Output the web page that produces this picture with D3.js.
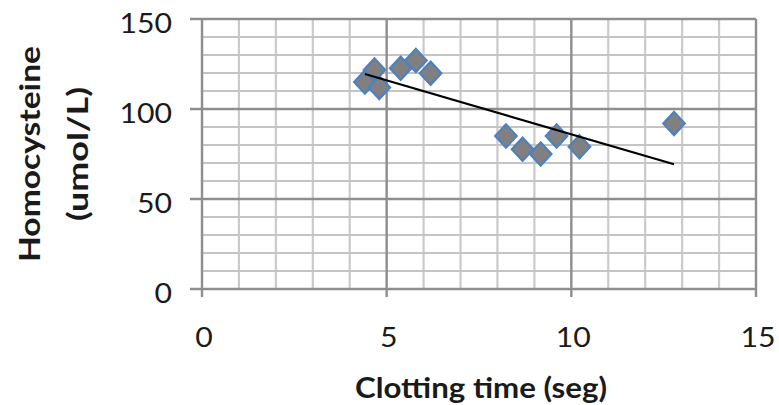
<!DOCTYPE html>
<html>
<head>
<meta charset="utf-8">
<script src="https://cdn.jsdelivr.net/npm/d3@7"></script>
<style>
  html, body { margin: 0; padding: 0; background: #fff; }
  svg { display: block; }
  text { font-family: Lato, "Open Sans", sans-serif; fill: #1a1a1a; }
</style>
</head>
<body>
<svg id="chart" width="779" height="405"></svg>
<script>
// Data
const clottingTime = [4.41, 4.67, 4.80, 5.38, 5.79, 6.19, 8.23, 8.68, 9.17, 9.60, 10.22, 12.78];
const homocysteine = [115, 121.7, 112, 122.6, 127, 119.8, 85, 77.6, 75, 85, 79, 92];
const xTicks = [0, 5, 10, 15];
const yTicks = [0, 50, 100, 150];
const xTitle = "Clotting time (seg)";
const yTitleLines = ["Homocysteine", "(umol/L)"];

const svg = d3.select("#chart");
const x = d3.scaleLinear().domain([0, 15]).range([202, 756]);
const y = d3.scaleLinear().domain([0, 150]).range([289, 19]);

// minor gridlines
const minorX = d3.range(0, 16, 1).filter(v => v % 5 !== 0);
const minorY = d3.range(0, 151, 10).filter(v => v % 50 !== 0);
const grid = svg.append("g");
grid.selectAll("line.mx").data(minorX).join("line")
  .attr("x1", d => x(d)).attr("x2", d => x(d))
  .attr("y1", y(150)).attr("y2", y(0))
  .attr("stroke", "#cacaca").attr("stroke-width", 2.2);
grid.selectAll("line.my").data(minorY).join("line")
  .attr("x1", x(0)).attr("x2", x(15))
  .attr("y1", d => y(d)).attr("y2", d => y(d))
  .attr("stroke", "#c4c4c4").attr("stroke-width", 2.2);

// major gridlines + ticks
grid.selectAll("line.Mx").data(xTicks).join("line")
  .attr("x1", d => x(d)).attr("x2", d => x(d))
  .attr("y1", y(150)).attr("y2", y(0) + 8)
  .attr("stroke", "#8e8e8e").attr("stroke-width", 2.4);
grid.selectAll("line.My").data(yTicks).join("line")
  .attr("x1", x(0) - 12).attr("x2", x(15))
  .attr("y1", d => y(d)).attr("y2", d => y(d))
  .attr("stroke", "#8e8e8e").attr("stroke-width", 2.4);

// tick labels (slightly widened like the reference)
svg.append("g").selectAll("text").data(yTicks).join("text")
  .attr("transform", d => `translate(172,${y(d) + 14}) scale(1.12,1)`)
  .attr("text-anchor", "end").attr("font-size", 27)
  .text(d => d);
svg.append("g").selectAll("text").data(xTicks).join("text")
  .attr("transform", d => `translate(${x(d) + 2},347) scale(1.12,1)`)
  .attr("text-anchor", "middle").attr("font-size", 27)
  .text(d => d);

// points
const sym = d3.symbol().type(d3.symbolSquare).size(230);
svg.append("g").selectAll("path").data(clottingTime).join("path")
  .attr("d", sym)
  .attr("transform", (d, i) => `translate(${x(d)},${y(homocysteine[i])}) scale(1,1.08) rotate(45)`)
  .attr("fill", "#808080").attr("stroke", "#4f81bd").attr("stroke-width", 2.2);

// trendline (least squares fit of the data), drawn over the points
const mx = d3.mean(clottingTime), my = d3.mean(homocysteine);
const slope = d3.sum(clottingTime, (v, i) => (v - mx) * (homocysteine[i] - my)) /
              d3.sum(clottingTime, v => (v - mx) * (v - mx));
const intercept = my - slope * mx;
const [xmin, xmax] = d3.extent(clottingTime);
svg.append("line")
  .attr("x1", x(xmin)).attr("y1", y(intercept + slope * xmin))
  .attr("x2", x(xmax)).attr("y2", y(intercept + slope * xmax))
  .attr("stroke", "#000").attr("stroke-width", 2.2);

// axis titles
svg.append("text")
  .attr("x", 481).attr("y", 398)
  .attr("text-anchor", "middle").attr("font-size", 29).attr("font-weight", "bold")
  .attr("fill", "#000")
  .attr("textLength", 252).attr("lengthAdjust", "spacingAndGlyphs")
  .text(xTitle);

const yt = svg.append("g").attr("transform", "translate(40,154) rotate(-90)");
yt.append("text").attr("x", 0).attr("y", 0)
  .attr("text-anchor", "middle").attr("font-size", 29).attr("font-weight", "bold").attr("fill", "#000")
  .attr("textLength", 216).attr("lengthAdjust", "spacingAndGlyphs")
  .text(yTitleLines[0]);
yt.append("text").attr("x", 0).attr("y", 48)
  .attr("text-anchor", "middle").attr("font-size", 29).attr("font-weight", "bold").attr("fill", "#000")
  .attr("textLength", 134).attr("lengthAdjust", "spacingAndGlyphs")
  .text(yTitleLines[1]);
</script>
</body>
</html>
